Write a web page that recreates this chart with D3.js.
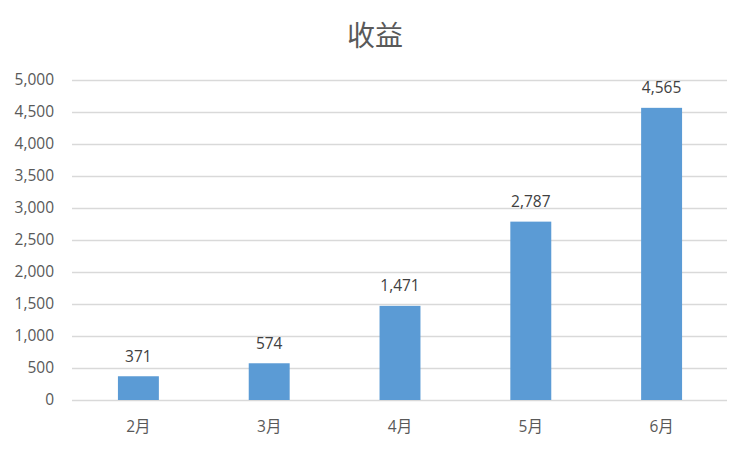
<!DOCTYPE html>
<html>
<head>
<meta charset="utf-8">
<script src="https://cdn.jsdelivr.net/npm/d3@7"></script>
<style>
  html, body { margin: 0; padding: 0; background: #fff; }
  svg { display: block; }
</style>
</head>
<body>
<svg id="chart" width="749" height="450"></svg>
<script>
const title = "收益";
const categories = ["2月", "3月", "4月", "5月", "6月"];
const values = [371, 574, 1471, 2787, 4565];
const yTicks = [0, 500, 1000, 1500, 2000, 2500, 3000, 3500, 4000, 4500, 5000];

const W = 749, H = 450;
const m = { left: 72, right: 22, top: 80, bottom: 50 };
const font = "'Open Sans', 'Noto Sans CJK SC', sans-serif";

const svg = d3.select("#chart");

const x = d3.scaleBand().domain(categories).range([m.left + 1, W - m.right]).paddingInner(0.687).paddingOuter(0.3435);
const y = d3.scaleLinear().domain([0, 5000]).range([H - m.bottom, m.top]);

// gridlines
const yAxis = d3.axisLeft(y).tickValues(yTicks).tickSize(-(W - m.left - m.right)).tickFormat(d3.format(","));
const gy = svg.append("g").attr("transform", `translate(${m.left},0)`).call(yAxis);
gy.select(".domain").remove();
gy.selectAll(".tick line").attr("stroke", "#d9d9d9").attr("stroke-width", 1.3);
gy.selectAll(".tick text").attr("x", -18).attr("fill", "#595959")
  .style("font-family", font).style("font-size", "15.5px");

// bars
svg.append("g").selectAll("rect").data(values).join("rect")
  .attr("x", (d, i) => x(categories[i]))
  .attr("width", x.bandwidth())
  .attr("y", d => y(d))
  .attr("height", d => y(0) - y(d))
  .attr("fill", "#5b9bd5");

// data labels
svg.append("g").selectAll("text").data(values).join("text")
  .attr("x", (d, i) => x(categories[i]) + x.bandwidth() / 2)
  .attr("y", d => y(d) - 14.5)
  .attr("text-anchor", "middle")
  .attr("fill", "#404040")
  .style("font-family", font).style("font-size", "15.5px")
  .text(d => d3.format(",")(d));

// x axis labels
const xAxis = d3.axisBottom(x).tickSize(0).tickPadding(0);
const gx = svg.append("g").attr("transform", `translate(0,${y(0)})`).call(xAxis);
gx.select(".domain").remove();
gx.selectAll(".tick text").attr("y", 32).attr("dy", null).attr("fill", "#595959")
  .style("font-family", font).style("font-size", "15.5px");

// title
svg.append("text").attr("x", 375).attr("y", 46).attr("text-anchor", "middle")
  .attr("fill", "#595959").style("font-family", "'Noto Sans CJK SC', sans-serif")
  .style("font-size", "28px").text(title);
</script>
</body>
</html>
